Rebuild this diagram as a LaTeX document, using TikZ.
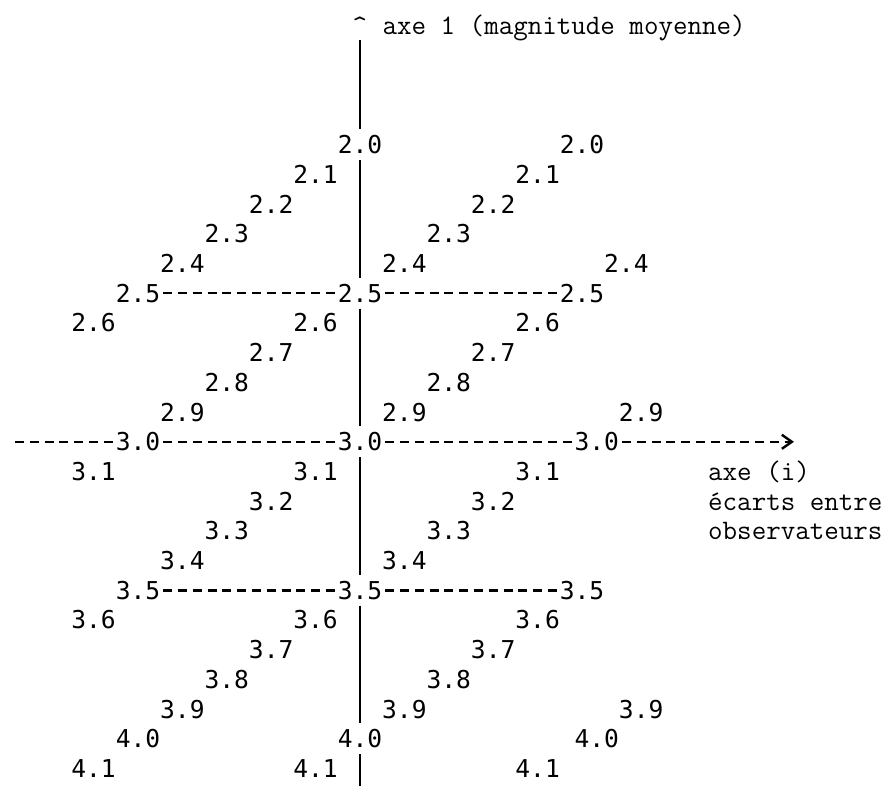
\documentclass[tikz,border=0pt]{standalone}
\usepackage{fontspec}
\newfontfamily\numfont{DejaVu Sans Mono}
\usetikzlibrary{arrows.meta}
\begin{document}
\begin{tikzpicture}[x=7.4pt,y=-14.85pt,
  num/.style={font=\numfont\fontsize{12.3}{14}\selectfont, inner xsep=0pt, inner ysep=3pt, outer sep=0pt},
  lbl/.style={font=\ttfamily\fontsize{14.1}{16}\selectfont, inner sep=0pt, anchor=base west},
  axisline/.style={line width=1.25pt},
  dashline/.style={line width=1.2pt, dash pattern=on 4.5pt off 2.9pt, dash phase=5.95pt}]
\fill[white] (-24.324,-0.8754) rectangle (35.676,25.387);
% top label and caret
\node[lbl, anchor=base] (caret) at (0,0.27) {\textasciicircum};
\node[lbl] (ax1) at (1.5,0.27) {axe 1 (magnitude moyenne)};
\coordinate (top) at (0,0.47);
\coordinate (bot) at (0,25.6);
% row 4
\node[num] (M20) at (0,4) {2.0};
\node[num] (R20) at (15,4) {2.0};
% row 5
\node[num] (a21) at (-3,5) {2.1};
\node[num] (c21) at (12,5) {2.1};
% row 6
\node[num] (a22) at (-6,6) {2.2};
\node[num] (c22) at (9,6) {2.2};
% row 7
\node[num] (a23) at (-9,7) {2.3};
\node[num] (c23) at (6,7) {2.3};
% row 8
\node[num] (a24) at (-12,8) {2.4};
\node[num] (b24) at (3,8) {2.4};
\node[num] (c24) at (18,8) {2.4};
% row 9
\node[num] (L25) at (-15,9) {2.5};
\node[num] (M25) at (0,9) {2.5};
\node[num] (R25) at (15,9) {2.5};
% row 10
\node[num] (a26) at (-18,10) {2.6};
\node[num] (b26) at (-3,10) {2.6};
\node[num] (c26) at (12,10) {2.6};
% row 11
\node[num] (b27) at (-6,11) {2.7};
\node[num] (c27) at (9,11) {2.7};
% row 12
\node[num] (b28) at (-9,12) {2.8};
\node[num] (c28) at (6,12) {2.8};
% row 13
\node[num] (b29) at (-12,13) {2.9};
\node[num] (c29) at (3,13) {2.9};
\node[num] (d29) at (19,13) {2.9};
% row 14
\node[num] (L30) at (-15,14) {3.0};
\node[num] (M30) at (0,14) {3.0};
\node[num] (R30) at (16,14) {3.0};
\coordinate (hleft) at (-23.5,14);
\coordinate (hright) at (29.32,14);
% row 15
\node[num] (a31) at (-18,15) {3.1};
\node[num] (b31) at (-3,15) {3.1};
\node[num] (c31) at (12,15) {3.1};
\node[lbl] (axi) at (23.5,15.303) {axe (i)};
% row 16
\node[num] (b32) at (-6,16) {3.2};
\node[num] (c32) at (9,16) {3.2};
\node[lbl] (ecarts) at (23.5,16.303) {écarts entre};
% row 17
\node[num] (b33) at (-9,17) {3.3};
\node[num] (c33) at (6,17) {3.3};
\node[lbl] (obs) at (23.5,17.303) {observateurs};
% row 18
\node[num] (b34) at (-12,18) {3.4};
\node[num] (c34) at (3,18) {3.4};
% row 19
\node[num] (L35) at (-15,19) {3.5};
\node[num] (M35) at (0,19) {3.5};
\node[num] (R35) at (15,19) {3.5};
% row 20
\node[num] (a36) at (-18,20) {3.6};
\node[num] (b36) at (-3,20) {3.6};
\node[num] (c36) at (12,20) {3.6};
% row 21
\node[num] (b37) at (-6,21) {3.7};
\node[num] (c37) at (9,21) {3.7};
% row 22
\node[num] (b38) at (-9,22) {3.8};
\node[num] (c38) at (6,22) {3.8};
% row 23
\node[num] (b39) at (-12,23) {3.9};
\node[num] (c39) at (3,23) {3.9};
\node[num] (d39) at (19,23) {3.9};
% row 24
\node[num] (L40) at (-15,24) {4.0};
\node[num] (M40) at (0,24) {4.0};
\node[num] (R40) at (16,24) {4.0};
% row 25
\node[num] (a41) at (-18,25) {4.1};
\node[num] (b41) at (-3,25) {4.1};
\node[num] (c41) at (12,25) {4.1};
% vertical axis
\draw[axisline] (top) -- (M20) (M20) -- (M25) (M25) -- (M30) (M30) -- (M35) (M35) -- (M40) (M40) -- (bot);
% horizontal dashed lines
\draw[dashline] (L25) -- (M25);
\draw[dashline] (M25) -- (R25);
\draw[dashline] (L35) -- (M35);
\draw[dashline] (M35) -- (R35);
\draw[dashline] (hleft) -- (L30);
\draw[dashline] (L30) -- (M30);
\draw[dashline] (M30) -- (R30);
\draw[dashline, -{Straight Barb[length=5pt,width=7pt]}] (R30) -- (hright);
\end{tikzpicture}
\end{document}
